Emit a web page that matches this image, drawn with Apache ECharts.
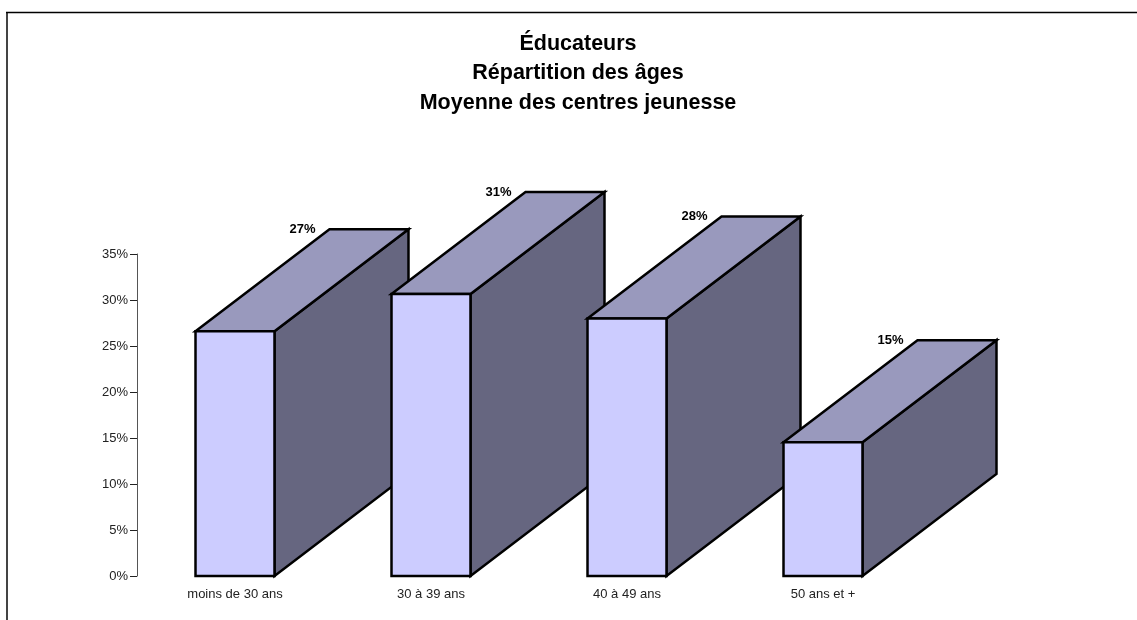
<!DOCTYPE html>
<html><head><meta charset="utf-8">
<style>html,body{margin:0;padding:0;background:#fff}#c{width:1137px;height:620px}</style>
<script src="https://cdn.jsdelivr.net/npm/echarts@6/dist/echarts.min.js"></script>
</head><body><div id="c"></div>
<script>
const categories = ['moins de 30 ans', '30 à 39 ans', '40 à 49 ans', '50 ans et +'];
const values = [26.6, 30.65, 28.0, 14.55];
const valueLabels = ['27%', '31%', '28%', '15%'];
const titleLines = ['Éducateurs', 'Répartition des âges', 'Moyenne des centres jeunesse'];
const yMax = 35, yStep = 5;
const depthX = 134, depthY = 102, barFrac = 0.403;
const font = '"Liberation Sans", Arial, sans-serif';
const chart = echarts.init(document.getElementById('c'), null, {renderer: 'canvas'});
chart.setOption({
  animation: false,
  backgroundColor: '#fff',
  title: {
    text: titleLines.join('\n'), left: 573, top: 24, textAlign: 'center',
    textStyle: {fontFamily: font, fontSize: 21.5, fontWeight: 'bold', color: '#000', lineHeight: 29.5}
  },
  graphic: [
    {type: 'line', silent: true, z: -1, shape: {x1: 7, y1: 12, x2: 7, y2: 620}, style: {stroke: '#444', lineWidth: 2}},
    {type: 'line', silent: true, z: -1, shape: {x1: 6, y1: 12.5, x2: 1137, y2: 12.5}, style: {stroke: '#000', lineWidth: 1.5}}
  ],
  grid: {left: 137, top: 254, width: 784, height: 322},
  xAxis: {type: 'category', data: categories, axisTick: {show: false}, axisLine: {show: false},
    axisLabel: {fontFamily: font, fontSize: 13, color: '#222', margin: 12}},
  yAxis: {type: 'value', min: 0, max: yMax, interval: yStep, splitLine: {show: false},
    axisLine: {show: true, lineStyle: {color: '#555', width: 1}},
    axisTick: {show: true, length: 7, lineStyle: {color: '#222', width: 1}},
    axisLabel: {fontFamily: font, fontSize: 13, color: '#222', margin: 9, formatter: '{value}%'}},
  series: [{
    type: 'custom', coordinateSystem: 'cartesian2d', clip: false,
    data: values.map((v, i) => [i, v]),
    encode: {x: 0, y: 1},
    renderItem(params, api) {
      const i = api.value(0), v = api.value(1);
      const top = api.coord([i, v]), base = api.coord([i, 0]);
      const w = api.size([1, 0])[0] * barFrac;
      const l = top[0] - w / 2, r = top[0] + w / 2, t = top[1], b = base[1];
      const line = {stroke: '#000', lineWidth: 2.5, lineJoin: 'miter'};
      const poly = (pts, fill) => ({type: 'polygon', shape: {points: pts}, style: {fill, ...line}});
      return {type: 'group', children: [
        poly([[r, t], [r + depthX, t - depthY], [r + depthX, b - depthY], [r, b]], '#666680'),
        poly([[l, t], [l + depthX, t - depthY], [r + depthX, t - depthY], [r, t]], '#9999bd'),
        poly([[l, t], [r, t], [r, b], [l, b]], '#ccccff'),
        {type: 'text', style: {text: valueLabels[i], x: l + depthX - 14, y: t - depthY,
          align: 'right', verticalAlign: 'middle', fontFamily: font, fontSize: 13, fontWeight: 'bold', fill: '#000'}}
      ]};
    }
  }]
});
</script></body></html>
